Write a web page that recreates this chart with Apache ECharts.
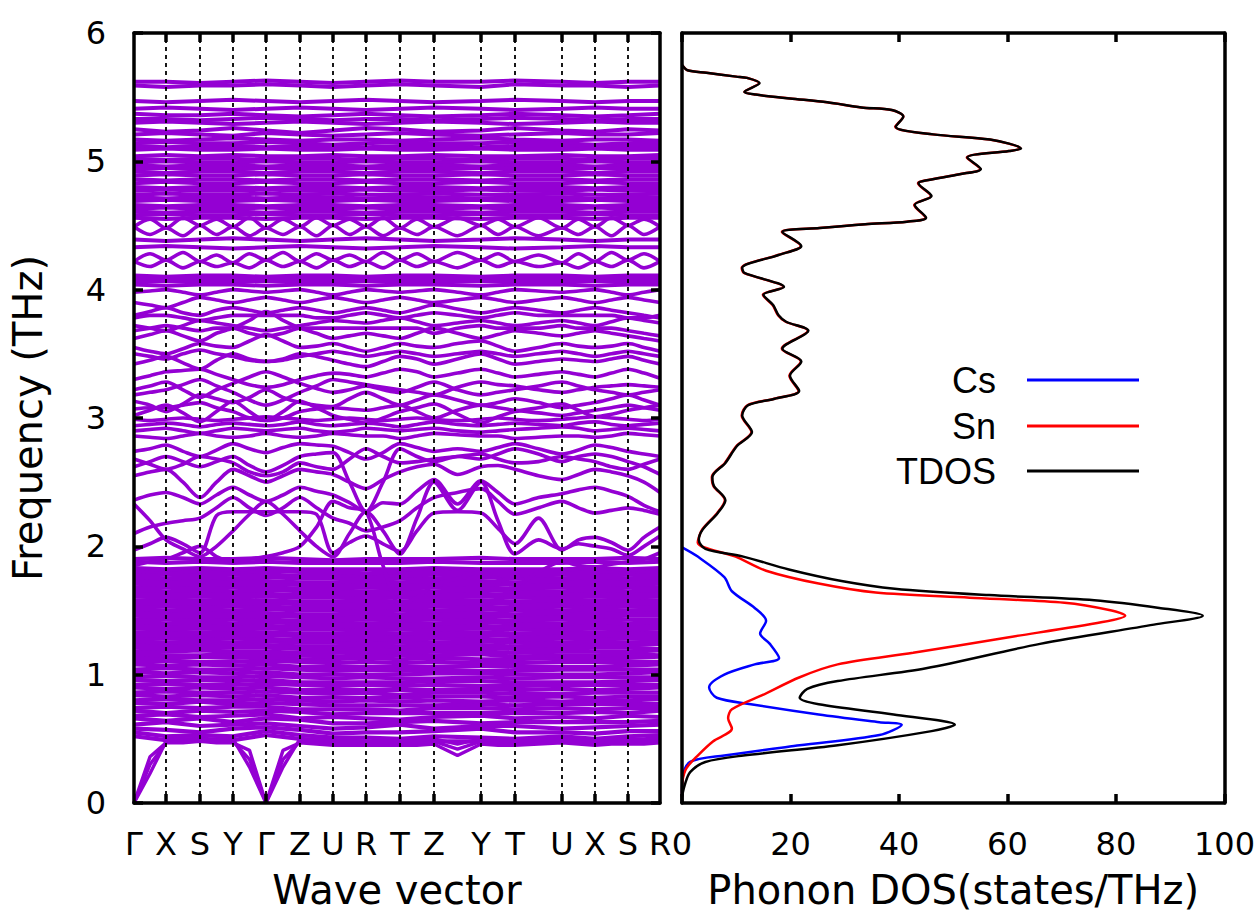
<!DOCTYPE html>
<html><head><meta charset="utf-8">
<script src="https://cdn.jsdelivr.net/npm/echarts@6/dist/echarts.min.js"></script>
<style>html,body{margin:0;padding:0;background:#fff}#c{width:1258px;height:915px}</style>
</head><body><div id="c"></div>
<script>
// ---- k-path ----
const kLabels = ['Γ','X','S','Y','Γ','Z','U','R','T','Z','Y','T','U','X','S','R'];
const kPos = [0,32,66,99,132,166,199,232,266,300,347,381,428,461,494,526];
const kGrid = [0,16,32,49,66,82.5,99,115.5,132,149,166,182.5,199,215.5,232,249,266,283,300,323.5,347,364,381,404.5,428,444.5,461,477.5,494,510,526];

// ---- acoustic branches (on kGrid) ----
const acousticBands = [
[0,0.36,0.47,0.47,0.48,0.47,0.47,0.41,0,0.41,0.47,0.46,0.45,0.45,0.45,0.45,0.45,0.45,0.46,0.37,0.46,0.45,0.45,0.46,0.47,0.46,0.45,0.46,0.46,0.46,0.47],
[0,0.30,0.47,0.50,0.50,0.49,0.48,0.34,0,0.34,0.48,0.48,0.47,0.47,0.46,0.46,0.46,0.47,0.48,0.42,0.48,0.47,0.46,0.47,0.48,0.48,0.47,0.48,0.48,0.48,0.49],
[0,0.23,0.48,0.52,0.53,0.52,0.50,0.28,0,0.28,0.50,0.50,0.49,0.49,0.48,0.48,0.48,0.49,0.50,0.46,0.50,0.49,0.48,0.49,0.50,0.50,0.49,0.50,0.50,0.50,0.51]
];

// ---- dense low optical bands (on kPos) ----
const lowBands = [
[0.52,0.49,0.50,0.49,0.53,0.50,0.48,0.48,0.47,0.48,0.48,0.47,0.49,0.47,0.48,0.50],
[0.55,0.52,0.53,0.52,0.56,0.53,0.51,0.51,0.50,0.52,0.51,0.50,0.52,0.50,0.52,0.53],
[0.58,0.57,0.55,0.58,0.59,0.57,0.54,0.55,0.55,0.56,0.58,0.55,0.55,0.54,0.56,0.56],
[0.61,0.63,0.60,0.61,0.62,0.60,0.58,0.59,0.61,0.58,0.60,0.60,0.58,0.59,0.60,0.61],
[0.66,0.64,0.66,0.63,0.66,0.65,0.62,0.62,0.63,0.64,0.62,0.63,0.63,0.63,0.63,0.64],
[0.68,0.69,0.67,0.68,0.69,0.66,0.67,0.66,0.65,0.67,0.68,0.66,0.67,0.66,0.68,0.67],
[0.72,0.70,0.72,0.71,0.72,0.71,0.69,0.70,0.70,0.70,0.70,0.70,0.70,0.71,0.70,0.72],
[0.74,0.75,0.74,0.75,0.75,0.73,0.73,0.73,0.72,0.74,0.74,0.73,0.74,0.73,0.74,0.74],
[0.78,0.77,0.79,0.77,0.78,0.77,0.76,0.76,0.76,0.76,0.77,0.76,0.77,0.77,0.77,0.77],
[0.80,0.81,0.80,0.80,0.81,0.80,0.79,0.80,0.79,0.80,0.79,0.80,0.79,0.80,0.80,0.81],
[0.84,0.83,0.84,0.83,0.84,0.82,0.82,0.82,0.82,0.83,0.83,0.82,0.83,0.82,0.83,0.83],
[0.86,0.87,0.86,0.86,0.87,0.86,0.85,0.86,0.84,0.86,0.86,0.85,0.85,0.86,0.86,0.86],
[0.90,0.89,0.90,0.89,0.90,0.88,0.88,0.88,0.88,0.88,0.89,0.88,0.89,0.88,0.89,0.90],
[0.92,0.93,0.92,0.92,0.93,0.92,0.91,0.92,0.91,0.92,0.91,0.91,0.92,0.92,0.92,0.92],
[0.96,0.95,0.96,0.95,0.96,0.94,0.94,0.94,0.94,0.95,0.95,0.94,0.94,0.94,0.95,0.96],
[0.98,0.99,0.98,0.98,0.99,0.98,0.97,0.98,0.97,0.97,0.98,0.97,0.98,0.98,0.98,0.98],
[1.02,1.01,1.02,1.01,1.02,1.00,1.00,1.00,1.00,1.01,1.01,1.00,1.00,1.00,1.01,1.02],
[1.04,1.05,1.04,1.04,1.05,1.04,1.03,1.04,1.03,1.04,1.03,1.03,1.04,1.04,1.04,1.04],
[1.08,1.07,1.08,1.07,1.08,1.06,1.06,1.06,1.06,1.06,1.07,1.06,1.06,1.06,1.07,1.08],
[1.10,1.11,1.10,1.10,1.11,1.10,1.09,1.10,1.09,1.10,1.09,1.09,1.10,1.10,1.10,1.10],
[1.13,1.13,1.14,1.13,1.14,1.12,1.12,1.13,1.12,1.13,1.12,1.12,1.13,1.13,1.13,1.14],
[1.16,1.15,1.15,1.16,1.16,1.15,1.14,1.15,1.15,1.15,1.16,1.14,1.15,1.15,1.16,1.15],
[1.18,1.18,1.19,1.18,1.18,1.17,1.17,1.18,1.17,1.18,1.18,1.17,1.18,1.18,1.18,1.19],
[1.21,1.20,1.21,1.21,1.21,1.20,1.20,1.20,1.20,1.20,1.21,1.20,1.20,1.21,1.21,1.20],
[1.23,1.23,1.23,1.23,1.23,1.22,1.22,1.23,1.22,1.23,1.23,1.22,1.23,1.23,1.23,1.24],
[1.26,1.25,1.26,1.25,1.26,1.25,1.25,1.25,1.25,1.25,1.26,1.25,1.25,1.26,1.25,1.26],
[1.28,1.28,1.28,1.28,1.28,1.27,1.27,1.28,1.27,1.28,1.28,1.27,1.28,1.28,1.28,1.28],
[1.31,1.30,1.31,1.30,1.31,1.30,1.30,1.30,1.30,1.30,1.31,1.30,1.30,1.30,1.31,1.31],
[1.33,1.33,1.33,1.33,1.33,1.32,1.32,1.33,1.32,1.33,1.33,1.32,1.33,1.33,1.33,1.33],
[1.36,1.35,1.36,1.35,1.36,1.35,1.35,1.35,1.35,1.35,1.36,1.35,1.35,1.36,1.35,1.36],
[1.38,1.38,1.38,1.38,1.38,1.37,1.37,1.38,1.37,1.38,1.38,1.37,1.38,1.38,1.38,1.38],
[1.41,1.40,1.41,1.40,1.41,1.40,1.40,1.40,1.40,1.40,1.41,1.40,1.40,1.41,1.40,1.41],
[1.43,1.43,1.43,1.43,1.43,1.42,1.42,1.43,1.42,1.43,1.43,1.42,1.43,1.43,1.43,1.43],
[1.46,1.45,1.46,1.45,1.46,1.45,1.45,1.45,1.45,1.45,1.46,1.45,1.45,1.45,1.46,1.46],
[1.48,1.48,1.48,1.48,1.48,1.47,1.47,1.48,1.47,1.48,1.48,1.47,1.48,1.48,1.48,1.48],
[1.51,1.50,1.51,1.50,1.51,1.50,1.50,1.50,1.50,1.50,1.51,1.50,1.50,1.51,1.50,1.51],
[1.53,1.53,1.53,1.53,1.53,1.52,1.52,1.53,1.52,1.53,1.53,1.52,1.53,1.53,1.53,1.53],
[1.56,1.55,1.56,1.55,1.56,1.55,1.55,1.55,1.55,1.55,1.56,1.55,1.55,1.56,1.55,1.56],
[1.58,1.58,1.58,1.58,1.58,1.57,1.57,1.58,1.57,1.58,1.58,1.57,1.58,1.58,1.58,1.58],
[1.61,1.60,1.61,1.60,1.61,1.60,1.60,1.60,1.60,1.60,1.61,1.60,1.60,1.61,1.60,1.61],
[1.63,1.63,1.63,1.63,1.63,1.62,1.62,1.63,1.62,1.63,1.63,1.62,1.63,1.63,1.63,1.63],
[1.66,1.65,1.66,1.65,1.66,1.65,1.65,1.65,1.65,1.65,1.66,1.65,1.65,1.66,1.65,1.66],
[1.68,1.68,1.68,1.68,1.68,1.67,1.67,1.68,1.67,1.68,1.68,1.67,1.68,1.68,1.68,1.68],
[1.71,1.70,1.71,1.70,1.71,1.70,1.70,1.70,1.70,1.70,1.71,1.70,1.70,1.71,1.70,1.71],
[1.73,1.73,1.73,1.73,1.73,1.72,1.72,1.73,1.72,1.73,1.73,1.72,1.73,1.73,1.73,1.73],
[1.76,1.75,1.76,1.75,1.76,1.75,1.75,1.75,1.75,1.75,1.76,1.75,1.75,1.76,1.75,1.76],
[1.78,1.78,1.78,1.78,1.78,1.77,1.77,1.78,1.77,1.78,1.78,1.77,1.78,1.78,1.78,1.78],
[1.80,1.81,1.80,1.80,1.81,1.80,1.80,1.79,1.80,1.80,1.80,1.80,1.80,1.80,1.81,1.80],
[1.83,1.82,1.83,1.82,1.83,1.82,1.82,1.82,1.82,1.83,1.82,1.82,1.82,1.83,1.82,1.83],
[1.88,1.87,1.88,1.87,1.88,1.87,1.87,1.87,1.87,1.88,1.87,1.87,1.87,1.88,1.87,1.88],
[1.90,1.91,1.90,1.90,1.91,1.90,1.89,1.90,1.90,1.90,1.91,1.90,1.90,1.90,1.91,1.90]
];

// ---- middle bands (on kGrid) ----
const midBands = [
[1.97,2.02,2.07,2.02,1.95,2.24,2.27,2.27,2.27,2.27,2.27,2.25,1.95,2.03,2.08,2.02,1.96,2.12,2.26,2.27,2.26,2.14,2.02,2.22,1.97,2.05,2.07,2.03,1.97,2.07,2.15],
[2.33,2.2,2.05,1.98,1.92,2.0,2.12,2.25,2.35,2.25,2.12,2.0,1.92,2.1,2.27,2.12,1.94,2.22,2.5,2.28,2.5,2.2,1.94,2.05,1.98,2.02,2.0,1.98,1.93,2.0,2.08],
[2.36,2.4,2.42,2.38,2.33,2.4,2.46,2.4,2.35,2.4,2.46,2.43,2.4,2.34,2.27,2.34,2.33,2.43,2.52,2.33,2.51,2.42,2.33,2.38,2.41,2.44,2.46,2.43,2.39,2.32,2.27],
[2.1,2.15,2.18,2.2,2.22,2.3,2.38,2.3,2.24,2.3,2.38,2.3,2.22,2.18,2.12,2.15,2.2,2.3,2.38,2.42,2.45,2.35,2.25,2.3,2.35,2.3,2.26,2.28,2.3,2.28,2.25],
[2.55,2.58,2.6,2.5,2.38,2.5,2.6,2.55,2.5,2.55,2.6,2.58,2.56,2.5,2.45,2.52,2.58,2.62,2.64,2.56,2.62,2.63,2.6,2.55,2.52,2.56,2.6,2.58,2.55,2.5,2.42],
[2.62,2.66,2.7,2.66,2.62,2.66,2.7,2.63,2.58,2.63,2.7,2.72,2.73,2.5,2.27,2.5,2.76,2.7,2.66,2.7,2.68,2.72,2.76,2.72,2.66,2.7,2.72,2.7,2.66,2.62,2.56],
[2.68,2.64,2.6,2.64,2.7,2.68,2.65,2.58,2.55,2.58,2.65,2.62,2.6,2.68,2.76,2.7,2.65,2.66,2.68,2.7,2.72,2.68,2.65,2.66,2.7,2.68,2.66,2.62,2.6,2.64,2.68],
[2.74,2.76,2.79,2.74,2.7,2.75,2.8,2.76,2.73,2.77,2.8,2.79,2.78,2.73,2.68,2.73,2.8,2.77,2.74,2.76,2.74,2.77,2.8,2.76,2.72,2.75,2.79,2.77,2.74,2.72,2.7],
[1.85,1.88,1.9,1.95,2.0,1.92,1.88,1.9,1.92,1.95,2.0,2.15,2.35,2.3,2.27,1.85,1.55,1.6,1.7,1.75,1.8,1.75,1.7,1.8,1.88,1.85,1.84,1.86,1.88,1.9,1.95],
[2.86,2.85,2.84,2.86,2.88,2.86,2.85,2.86,2.88,2.86,2.85,2.86,2.88,2.87,2.86,2.86,2.84,2.86,2.88,2.87,2.86,2.86,2.84,2.85,2.86,2.86,2.85,2.86,2.88,2.87,2.86],
[2.9,2.91,2.92,2.9,2.88,2.9,2.92,2.91,2.9,2.91,2.92,2.9,2.89,2.9,2.92,2.91,2.9,2.91,2.92,2.9,2.89,2.9,2.91,2.92,2.93,2.92,2.9,2.91,2.92,2.91,2.9],
[2.94,2.95,2.96,2.95,2.93,2.95,2.96,2.95,2.94,2.95,2.97,2.95,2.94,2.95,2.96,2.95,2.93,2.95,2.97,2.95,2.94,2.95,2.96,2.95,2.94,2.96,2.97,2.95,2.94,2.95,2.96],
[2.99,2.98,2.99,3.0,2.99,2.98,2.99,3.0,3.01,3.0,2.99,2.98,2.99,3.0,2.99,2.98,2.99,3.0,2.99,2.98,2.99,3.0,2.99,2.98,2.99,3.0,3.01,3.0,2.99,2.98,2.99],
[3.02,3.06,3.1,3.04,2.97,3.05,3.13,3.05,2.98,3.05,3.13,3.08,3.02,2.99,2.96,3.0,3.05,3.08,3.11,3.03,2.96,3.01,3.05,3.08,3.11,3.06,3.01,3.03,3.06,3.08,3.1],
[3.07,3.08,3.08,3.1,3.12,3.08,3.05,3.0,2.98,3.0,3.05,3.07,3.08,3.07,3.06,3.08,3.1,3.05,3.0,3.06,3.1,3.08,3.06,3.04,3.02,3.04,3.06,3.08,3.1,3.08,3.06],
[3.13,3.1,3.05,3.11,3.18,3.15,3.12,3.16,3.22,3.16,3.12,3.1,3.09,3.15,3.2,3.15,3.1,3.14,3.18,3.14,3.1,3.12,3.15,3.12,3.08,3.1,3.12,3.15,3.18,3.14,3.1],
[3.18,3.2,3.22,3.26,3.3,3.25,3.2,3.14,3.1,3.14,3.2,3.25,3.3,3.28,3.26,3.24,3.22,3.2,3.18,3.24,3.28,3.26,3.25,3.22,3.2,3.22,3.24,3.25,3.26,3.25,3.24],
[3.22,3.25,3.28,3.22,3.16,3.22,3.27,3.32,3.36,3.32,3.27,3.23,3.2,3.22,3.25,3.22,3.2,3.24,3.28,3.22,3.18,3.2,3.22,3.25,3.28,3.25,3.22,3.2,3.18,3.2,3.22],
[3.3,3.33,3.36,3.37,3.38,3.34,3.3,3.26,3.24,3.26,3.3,3.33,3.35,3.34,3.32,3.35,3.38,3.36,3.32,3.35,3.38,3.35,3.32,3.34,3.36,3.34,3.32,3.35,3.38,3.35,3.31],
[3.42,3.45,3.48,3.43,3.38,3.45,3.5,3.46,3.44,3.46,3.5,3.48,3.45,3.42,3.4,3.44,3.48,3.46,3.42,3.46,3.5,3.46,3.42,3.44,3.46,3.45,3.44,3.46,3.48,3.45,3.42],
[3.5,3.48,3.46,3.5,3.53,3.5,3.48,3.45,3.44,3.45,3.48,3.5,3.52,3.5,3.48,3.5,3.52,3.5,3.48,3.5,3.52,3.5,3.48,3.5,3.52,3.5,3.48,3.5,3.52,3.5,3.48],
[3.55,3.52,3.5,3.54,3.58,3.56,3.55,3.6,3.65,3.6,3.55,3.56,3.58,3.55,3.52,3.55,3.58,3.56,3.55,3.58,3.6,3.56,3.52,3.55,3.58,3.56,3.55,3.56,3.58,3.55,3.52],
[3.62,3.65,3.68,3.64,3.6,3.66,3.7,3.76,3.83,3.76,3.7,3.66,3.62,3.64,3.66,3.64,3.62,3.66,3.7,3.66,3.62,3.65,3.68,3.66,3.64,3.66,3.68,3.66,3.64,3.62,3.6],
[3.68,3.7,3.72,3.7,3.68,3.7,3.7,3.66,3.64,3.66,3.7,3.7,3.7,3.7,3.7,3.7,3.7,3.7,3.66,3.7,3.72,3.7,3.7,3.7,3.72,3.7,3.7,3.7,3.68,3.66,3.64],
[3.72,3.7,3.68,3.72,3.76,3.74,3.72,3.7,3.68,3.7,3.72,3.74,3.76,3.75,3.74,3.76,3.78,3.75,3.72,3.74,3.76,3.74,3.72,3.74,3.76,3.74,3.72,3.75,3.78,3.76,3.74],
[3.78,3.8,3.8,3.78,3.76,3.78,3.8,3.8,3.8,3.8,3.8,3.78,3.78,3.8,3.82,3.8,3.78,3.8,3.82,3.8,3.78,3.8,3.82,3.8,3.8,3.8,3.8,3.8,3.78,3.78,3.8],
[3.8,3.83,3.86,3.82,3.8,3.84,3.86,3.84,3.82,3.84,3.86,3.84,3.82,3.84,3.86,3.84,3.82,3.85,3.88,3.85,3.82,3.84,3.86,3.84,3.82,3.84,3.86,3.84,3.82,3.8,3.78],
[3.9,3.88,3.86,3.9,3.94,3.92,3.9,3.92,3.94,3.92,3.9,3.92,3.94,3.92,3.9,3.92,3.94,3.92,3.9,3.92,3.94,3.92,3.9,3.92,3.94,3.92,3.9,3.92,3.94,3.92,3.9],
[3.98,3.99,4.0,3.98,3.96,3.98,4.0,3.99,3.98,3.99,4.0,3.98,3.96,3.98,4.0,3.99,3.98,3.99,4.0,3.98,3.96,3.98,4.0,3.99,3.98,3.99,4.0,3.98,3.96,3.98,4.0],
[4.22,4.28,4.23,4.29,4.22,4.27,4.21,4.28,4.23,4.29,4.22,4.28,4.23,4.27,4.22,4.29,4.23,4.28,4.22,4.29,4.23,4.28,4.22,4.27,4.21,4.28,4.22,4.29,4.23,4.28,4.22],
[4.22,4.18,4.23,4.17,4.22,4.18,4.21,4.17,4.23,4.18,4.22,4.17,4.23,4.18,4.22,4.17,4.23,4.18,4.22,4.17,4.23,4.18,4.22,4.18,4.21,4.17,4.22,4.18,4.23,4.17,4.22],
[4.49,4.55,4.48,4.56,4.5,4.55,4.49,4.56,4.48,4.55,4.49,4.56,4.5,4.55,4.49,4.56,4.48,4.55,4.49,4.56,4.5,4.55,4.49,4.56,4.48,4.55,4.49,4.56,4.5,4.55,4.49],
[4.49,4.43,4.48,4.42,4.5,4.43,4.49,4.42,4.48,4.43,4.49,4.42,4.5,4.43,4.49,4.42,4.48,4.43,4.49,4.42,4.5,4.43,4.49,4.42,4.48,4.43,4.49,4.42,4.5,4.43,4.49]
];

// ---- dense high bands (on kPos) ----
const highBands = [
[5.62,5.62,5.61,5.62,5.63,5.62,5.61,5.62,5.63,5.62,5.62,5.63,5.62,5.61,5.62,5.62],
[5.59,5.58,5.59,5.59,5.60,5.59,5.58,5.59,5.60,5.59,5.58,5.60,5.59,5.59,5.58,5.59],
[5.47,5.46,5.47,5.48,5.47,5.46,5.47,5.48,5.47,5.46,5.47,5.48,5.47,5.46,5.47,5.47],
[5.41,5.42,5.41,5.40,5.41,5.42,5.41,5.40,5.41,5.42,5.41,5.40,5.41,5.42,5.41,5.41],
[5.37,5.36,5.36,5.37,5.36,5.35,5.36,5.37,5.36,5.35,5.36,5.37,5.36,5.35,5.36,5.37],
[5.33,5.33,5.32,5.33,5.34,5.33,5.32,5.33,5.33,5.32,5.33,5.34,5.33,5.32,5.33,5.33],
[5.30,5.31,5.30,5.29,5.30,5.31,5.30,5.29,5.30,5.31,5.30,5.29,5.30,5.31,5.30,5.30],
[5.25,5.23,5.24,5.26,5.24,5.22,5.24,5.26,5.25,5.23,5.24,5.26,5.24,5.23,5.25,5.24],
[5.21,5.22,5.21,5.20,5.22,5.21,5.20,5.21,5.22,5.21,5.20,5.21,5.22,5.21,5.21,5.22],
[5.17,5.16,5.17,5.18,5.17,5.16,5.17,5.17,5.16,5.17,5.18,5.17,5.16,5.17,5.17,5.16],
[5.14,5.15,5.14,5.14,5.15,5.14,5.13,5.14,5.15,5.14,5.14,5.15,5.14,5.13,5.14,5.15],
[5.12,5.11,5.12,5.12,5.11,5.12,5.12,5.11,5.12,5.12,5.11,5.12,5.12,5.11,5.12,5.12],
[5.09,5.10,5.09,5.09,5.10,5.09,5.09,5.10,5.09,5.09,5.10,5.09,5.09,5.10,5.09,5.09],
[5.04,5.05,5.04,5.05,5.04,5.04,5.05,5.04,5.04,5.05,5.04,5.04,5.05,5.04,5.04,5.05],
[5.02,5.01,5.02,5.02,5.01,5.02,5.02,5.01,5.02,5.02,5.01,5.02,5.02,5.01,5.02,5.02],
[4.99,5.00,4.99,4.99,5.00,4.99,4.99,5.00,4.99,4.99,5.00,4.99,4.99,5.00,4.99,4.99],
[4.97,4.96,4.97,4.97,4.96,4.97,4.97,4.96,4.97,4.97,4.96,4.97,4.97,4.96,4.97,4.97],
[4.94,4.95,4.94,4.94,4.95,4.94,4.94,4.95,4.94,4.94,4.95,4.94,4.94,4.95,4.94,4.94],
[4.92,4.91,4.92,4.92,4.91,4.92,4.92,4.91,4.92,4.92,4.91,4.92,4.92,4.91,4.92,4.92],
[4.89,4.90,4.89,4.89,4.90,4.89,4.89,4.90,4.89,4.89,4.90,4.89,4.89,4.90,4.89,4.89],
[4.86,4.85,4.86,4.86,4.85,4.86,4.86,4.85,4.86,4.86,4.85,4.86,4.86,4.85,4.86,4.86],
[4.83,4.84,4.83,4.83,4.84,4.83,4.83,4.84,4.83,4.83,4.84,4.83,4.83,4.84,4.83,4.83],
[4.80,4.79,4.80,4.80,4.79,4.80,4.80,4.79,4.80,4.80,4.79,4.80,4.80,4.79,4.80,4.80],
[4.77,4.78,4.77,4.77,4.78,4.77,4.77,4.78,4.77,4.77,4.78,4.77,4.77,4.78,4.77,4.77],
[4.74,4.75,4.74,4.74,4.75,4.74,4.75,4.74,4.74,4.75,4.74,4.74,4.75,4.74,4.74,4.75],
[4.72,4.71,4.72,4.72,4.71,4.72,4.72,4.71,4.72,4.72,4.71,4.72,4.72,4.71,4.72,4.72],
[4.69,4.70,4.69,4.69,4.70,4.69,4.69,4.70,4.69,4.69,4.70,4.69,4.69,4.70,4.69,4.69],
[4.66,4.65,4.66,4.66,4.65,4.66,4.66,4.65,4.66,4.66,4.65,4.66,4.66,4.65,4.66,4.66],
[4.63,4.64,4.63,4.63,4.64,4.63,4.63,4.64,4.63,4.63,4.64,4.63,4.63,4.64,4.63,4.63],
[4.61,4.60,4.61,4.61,4.60,4.61,4.61,4.60,4.61,4.61,4.60,4.61,4.61,4.60,4.61,4.61],
[4.58,4.59,4.58,4.58,4.59,4.58,4.58,4.59,4.58,4.58,4.59,4.58,4.58,4.59,4.58,4.58],
[4.56,4.55,4.56,4.56,4.55,4.56,4.56,4.55,4.56,4.56,4.55,4.56,4.56,4.55,4.56,4.56],
[4.39,4.38,4.39,4.40,4.39,4.38,4.39,4.40,4.39,4.38,4.39,4.40,4.39,4.38,4.39,4.39],
[4.33,4.34,4.33,4.32,4.33,4.34,4.33,4.32,4.33,4.34,4.33,4.32,4.33,4.34,4.33,4.33],
[4.11,4.10,4.11,4.11,4.10,4.11,4.11,4.10,4.11,4.11,4.10,4.11,4.11,4.10,4.11,4.11],
[4.09,4.08,4.09,4.09,4.08,4.09,4.09,4.08,4.09,4.09,4.08,4.09,4.09,4.08,4.09,4.09],
[4.06,4.07,4.06,4.06,4.07,4.06,4.06,4.07,4.06,4.06,4.07,4.06,4.06,4.07,4.06,4.06],
[4.04,4.03,4.04,4.04,4.03,4.04,4.04,4.03,4.04,4.04,4.03,4.04,4.04,4.03,4.04,4.04]
];

// ---- phonon DOS ----
const tdosFreq = [5.75,5.71,5.69,5.66,5.65,5.61,5.54,5.52,5.49,5.46,5.42,5.40,5.35,5.27,5.21,5.17,5.10,5.08,5.03,4.94,4.90,4.85,4.83,4.73,4.66,4.56,4.53,4.51,4.48,4.45,4.34,4.27,4.17,4.13,4.02,3.96,3.88,3.80,3.75,3.68,3.54,3.44,3.33,3.21,3.15,3.10,3.02,2.89,2.78,2.65,2.54,2.47,2.36,2.26,2.13,2.05,1.98,1.92,1.82,1.73,1.67,1.62,1.58,1.52,1.46,1.39,1.24,1.05,0.95,0.89,0.82,0.77,0.69,0.61,0.56,0.45,0.37,0.32,0.24,0.14,0.05];
const tdosVal = [0,1,4.5,10,12,14.3,11.5,13.6,19.9,26.8,33.1,38.7,40.8,39.4,46.3,56.8,62.5,60.3,52.6,55.1,51.2,44.9,43.6,46,42.9,45,41.5,33.8,25.4,18.5,22,17.8,11.1,11.5,18.8,15,16.8,17.8,19.2,23.3,18.5,22,19.9,21.6,17.1,12.2,11.1,12.9,10.1,8,5.6,5.9,8,6.6,3.8,3.1,4.3,11.3,19.7,29.4,39.2,56.6,76,88,96,87,66,45,28.7,23.1,21.7,25.2,39,50.3,46,28.7,11.3,4.3,1.5,0.5,0];
const snFreq = [5.75,5.71,5.69,5.66,5.65,5.61,5.54,5.52,5.49,5.46,5.42,5.40,5.35,5.27,5.21,5.17,5.10,5.08,5.03,4.94,4.90,4.85,4.83,4.73,4.66,4.56,4.53,4.51,4.48,4.45,4.34,4.27,4.17,4.13,4.02,3.96,3.88,3.80,3.75,3.68,3.54,3.44,3.33,3.21,3.15,3.10,3.02,2.89,2.78,2.65,2.54,2.47,2.36,2.26,2.13,2.03,1.92,1.81,1.71,1.64,1.60,1.56,1.50,1.46,1.41,1.29,1.17,1.08,0.98,0.84,0.73,0.66,0.58,0.48,0.37,0.27,0.17,0.05];
const snVal = [0,1,4.5,10,12,14.2,11.5,13.5,19.9,26.7,33,38.6,40.8,39.3,46.2,56.7,62.4,60.2,52.5,55,51.1,44.8,43.5,45.9,42.8,44.9,41.4,33.7,25.3,18.4,21.9,17.7,11,11.4,18.7,14.9,16.7,17.7,19.1,23.2,18.4,21.9,19.8,21.5,17,12.1,11,12.8,10,7.9,5.5,5.8,7.9,6.5,3.7,2.9,9.9,15.5,25.2,35.7,53,70.5,79.2,81.7,77.5,60,42.6,28.7,21.7,14.8,9.2,8.5,9.2,5.7,2.9,0.8,0.1,0];
const csFreq = [1.99,1.92,1.76,1.65,1.52,1.42,1.32,1.24,1.13,1.08,1.00,0.90,0.82,0.77,0.69,0.63,0.61,0.53,0.45,0.37,0.32,0.20,0.05];
const csVal = [0.1,2.9,7.8,9.2,13.4,15.5,14.4,16.2,17.9,13.4,7.8,5.0,6.4,12.7,25.2,36.4,40.5,36.4,21.7,7.8,1.5,0.1,0];

const yTicks = [0,1,2,3,4,5,6];
const dosTicks = [0,20,40,60,80,100];

// ---- build ----
const PURPLE = '#9400d3';
const FONT = 'DejaVu Sans';
const series = [];
function addBands(bands, grid, smooth, width) {
  bands.forEach(b => series.push({
    type:'line', xAxisIndex:0, yAxisIndex:0, silent:true, animation:false,
    showSymbol:false, symbol:'none', smooth: smooth,
    data: grid.map((k,i)=>[k,b[i]]),
    lineStyle:{color:PURPLE, width:width}, z:2
  }));
}
addBands(lowBands, kPos, false, 4.2);
addBands(highBands, kPos, false, 4.0);
addBands(midBands, kGrid, 0.3, 3.6);
addBands(acousticBands, kGrid, false, 3.4);

series.push({
  type:'line', xAxisIndex:0, yAxisIndex:0, data:[], silent:true, animation:false, z:5,
  markLine:{symbol:['none','none'], silent:true, animation:false, label:{show:false},
    lineStyle:{color:'#000', type:[4,4], width:1.8},
    data: kPos.slice(1,-1).map(k=>({xAxis:k}))}
});

function dosSeries(name, color, f, v) {
  return {name, type:'line', xAxisIndex:2, yAxisIndex:2, silent:true, animation:false,
    showSymbol:false, symbol:'none', color, smooth:0.3,
    data: f.map((y,i)=>[v[i], y]), lineStyle:{color, width:2.5}, z:3};
}
series.push(dosSeries('Cs','#0000ff',csFreq,csVal));
series.push(dosSeries('Sn','#ff0000',snFreq,snVal));
series.push(dosSeries('TDOS','#000000',tdosFreq,tdosVal));

const frameLine = {show:true, onZero:false, lineStyle:{color:'#000', width:3.5}};
const tickIn = {show:true, inside:true, length:9, lineStyle:{color:'#000', width:3.5}};
const labelStyle = {color:'#000', fontSize:32, fontFamily:FONT};
const nameStyle = {color:'#000', fontSize:40, fontFamily:FONT};

function legendItem(name, top) {
  return {data:[name], right:114, top, orient:'horizontal', align:'right', icon:'rect',
    itemWidth:112, itemHeight:3, selectedMode:false,
    textStyle:{color:'#000', fontSize:36, fontFamily:'Liberation Sans', padding:[0,26,0,0]}};
}

const option = {
  backgroundColor:'#fff',
  animation:false,
  grid:[
    {left:134, top:33, width:526, height:775, show:false},
    {left:682, top:33, width:560, height:775, show:false}
  ],
  xAxis:[
    {gridIndex:0, type:'value', min:0, max:526, position:'bottom', z:10,
     axisLine:frameLine, splitLine:{show:false},
     axisTick:Object.assign({}, tickIn, {customValues:kPos.slice(1,-1)}),
     axisLabel:Object.assign({}, labelStyle, {customValues:kPos, margin:25,
        formatter:(v)=>kLabels[kPos.indexOf(v)]}),
     name:'Wave vector', nameLocation:'middle', nameGap:67, nameTextStyle:nameStyle},
    {gridIndex:0, type:'value', min:0, max:526, position:'top', z:10,
     axisLine:frameLine, splitLine:{show:false},
     axisTick:Object.assign({}, tickIn, {customValues:kPos.slice(1,-1)}),
     axisLabel:{show:false}},
    {gridIndex:1, type:'value', min:0, max:100, interval:20, position:'bottom', z:10,
     axisLine:frameLine, splitLine:{show:false}, axisTick:tickIn,
     axisLabel:Object.assign({}, labelStyle, {margin:25, customValues:dosTicks}),
     name:'Phonon DOS(states/THz)', nameLocation:'middle', nameGap:67, nameTextStyle:nameStyle},
    {gridIndex:1, type:'value', min:0, max:100, interval:20, position:'top', z:10,
     axisLine:frameLine, splitLine:{show:false}, axisTick:tickIn, axisLabel:{show:false}}
  ],
  yAxis:[
    {gridIndex:0, type:'value', min:0, max:6, interval:1, position:'left', z:10,
     axisLine:frameLine, splitLine:{show:false}, axisTick:tickIn,
     axisLabel:Object.assign({}, labelStyle, {margin:28, customValues:yTicks}),
     name:'Frequency (THz)', nameLocation:'middle', nameGap:86, nameTextStyle:nameStyle},
    {gridIndex:0, type:'value', min:0, max:6, interval:1, position:'right', z:10,
     axisLine:frameLine, splitLine:{show:false}, axisTick:tickIn, axisLabel:{show:false}},
    {gridIndex:1, type:'value', min:0, max:6, interval:1, position:'left', z:10,
     axisLine:frameLine, splitLine:{show:false}, axisTick:{show:false}, axisLabel:{show:false}},
    {gridIndex:1, type:'value', min:0, max:6, interval:1, position:'right', z:10,
     axisLine:frameLine, splitLine:{show:false}, axisTick:{show:false}, axisLabel:{show:false}}
  ],
  legend:[legendItem('Cs',357), legendItem('Sn',403), legendItem('TDOS',448)],
  series
};
const chart = echarts.init(document.getElementById('c'), null, {renderer:'svg'});
chart.setOption(option);
</script>
</body></html>
